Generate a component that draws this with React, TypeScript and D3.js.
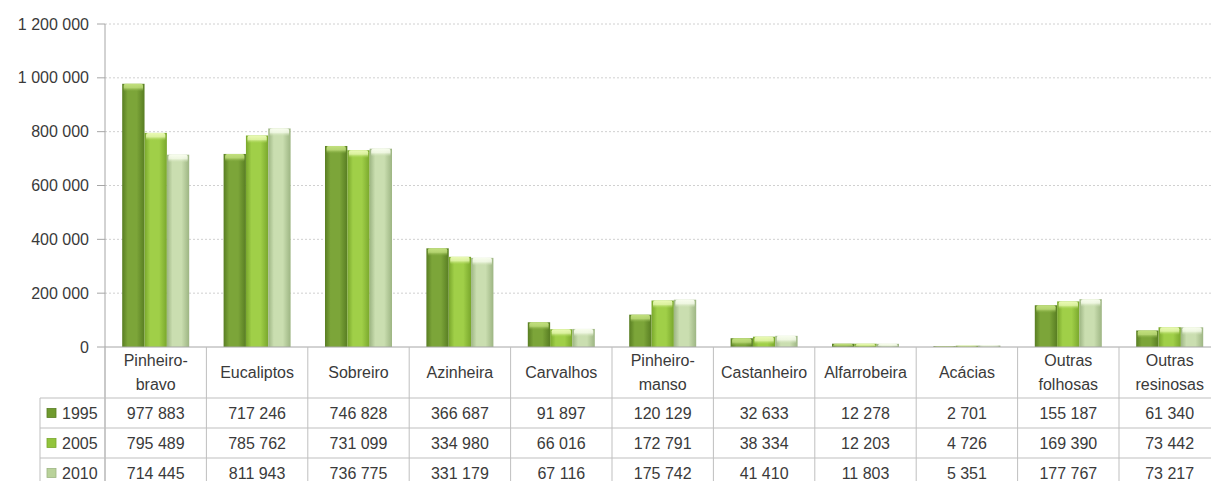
import React from 'react'
import * as d3 from 'd3'

const categories = [
  ['Pinheiro-', 'bravo'], ['Eucaliptos'], ['Sobreiro'], ['Azinheira'], ['Carvalhos'],
  ['Pinheiro-', 'manso'], ['Castanheiro'], ['Alfarrobeira'], ['Acácias'],
  ['Outras', 'folhosas'], ['Outras', 'resinosas'],
]
const years = ['1995', '2005', '2010']
const values1995 = [977883, 717246, 746828, 366687, 91897, 120129, 32633, 12278, 2701, 155187, 61340]
const values2005 = [795489, 785762, 731099, 334980, 66016, 172791, 38334, 12203, 4726, 169390, 73442]
const values2010 = [714445, 811943, 736775, 331179, 67116, 175742, 41410, 11803, 5351, 177767, 73217]
const yTicks = [0, 200000, 400000, 600000, 800000, 1000000, 1200000]

const series = [values1995, values2005, values2010]
const palette = [
  { edge: '#587d22', mid: '#7ca539', cap: '#c2e07e', key: '#6f9a2e' },
  { edge: '#79a72c', mid: '#a0cf48', cap: '#eafab4', key: '#92c43c' },
  { edge: '#9db583', mid: '#cadeb0', cap: '#f8fdee', key: '#b9d29a' },
]

const fmt = d3.formatLocale({ decimal: ',', thousands: ' ', grouping: [3], currency: ['', ''] }).format(',d')
const font = "'Liberation Sans', Arial, sans-serif"
const textColor = '#3a3a3a'
const lineColor = '#bfbfbf'

const App = () => {
  const left = 105
  const top = 24
  const zeroY = 347
  const colW = 101.4
  const headerBottom = 398
  const rowH = 30

  const x = d3.scaleBand<number>().domain(d3.range(categories.length)).range([left, left + colW * categories.length])
  const xs = d3.scaleBand<string>().domain(years).range([0, x.bandwidth()]).paddingOuter(0.77)
  const y = d3.scaleLinear().domain([0, 1200000]).range([zeroY, top])

  return (
    <svg width={1211} height={481} style={{ position: 'absolute', left: 0, top: 0, background: '#fff' }} fontFamily={font}>
      <defs>
        {palette.map((p, i) => (
          <g key={i}>
            <linearGradient id={`bar${i}`} x1="0" x2="1" y1="0" y2="0">
              <stop offset="0" stopColor={p.edge} />
              <stop offset="0.25" stopColor={p.mid} />
              <stop offset="0.65" stopColor={p.mid} />
              <stop offset="1" stopColor={p.edge} />
            </linearGradient>
            <linearGradient id={`cap${i}`} x1="0" x2="0" y1="0" y2="1">
              <stop offset="0" stopColor={p.cap} />
              <stop offset="0.5" stopColor={p.cap} stopOpacity="0.8" />
              <stop offset="1" stopColor={p.mid} stopOpacity="0" />
            </linearGradient>
          </g>
        ))}
      </defs>

      {/* gridlines */}
      {yTicks.filter(t => t > 0).map(t => (
        <line key={t} x1={left} x2={1211} y1={y(t)} y2={y(t)} stroke="#d0d0d0" strokeDasharray="2,2" />
      ))}

      {/* y axis */}
      <line x1={left} x2={left} y1={top} y2={481} stroke="#a6a6a6" />
      {yTicks.map(t => (
        <g key={t}>
          <line x1={left - 8} x2={left} y1={y(t)} y2={y(t)} stroke="#a6a6a6" />
          <text x={89} y={y(t)} dy="0.35em" textAnchor="end" fontSize={16} fill={textColor}>{fmt(t)}</text>
        </g>
      ))}

      {/* bars */}
      {categories.map((_, ci) => (
        <g key={ci} transform={`translate(${x(ci)},0)`}>
          {series.map((vals, si) => {
            const bx = xs(years[si]) as number
            const bw = xs.bandwidth()
            const by = y(vals[ci])
            const bh = zeroY - by
            const capH = Math.min(8, bh)
            return (
              <g key={si}>
                <rect x={bx} y={by} width={bw} height={bh} fill={`url(#bar${si})`} />
                <rect x={bx + 1.5} y={by} width={bw - 3} height={capH} rx={2} fill={`url(#cap${si})`} />
              </g>
            )
          })}
        </g>
      ))}

      {/* table */}
      <line x1={left} x2={1211} y1={zeroY} y2={zeroY} stroke="#a6a6a6" />
      {d3.range(categories.length + 1).map(i => (
        <line key={i} x1={left + colW * i} x2={left + colW * i} y1={zeroY} y2={481} stroke={lineColor} />
      ))}
      <line x1={40} x2={40} y1={headerBottom} y2={481} stroke={lineColor} />
      {[0, 1, 2].map(r => (
        <line key={r} x1={40} x2={1211} y1={headerBottom + rowH * r} y2={headerBottom + rowH * r} stroke={lineColor} />
      ))}

      {categories.map((lines, ci) => {
        const cx = (x(ci) as number) + x.bandwidth() / 2
        const mid = (zeroY + headerBottom) / 2
        return (
          <text key={ci} x={cx} textAnchor="middle" fontSize={16} fill={textColor}>
            {lines.map((l, li) => (
              <tspan key={li} x={cx} y={mid + (li - (lines.length - 1) / 2) * 24} dy="0.35em">{l}</tspan>
            ))}
          </text>
        )
      })}

      {series.map((vals, si) => {
        const cy = headerBottom + rowH * si + rowH / 2
        return (
          <g key={si}>
            <rect x={47} y={cy - 4.5} width={9} height={9} fill={palette[si].key} stroke={palette[si].edge} strokeWidth={0.8} />
            <text x={62} y={cy} dy="0.35em" fontSize={16} fill={textColor}>{years[si]}</text>
            {vals.map((v, ci) => (
              <text key={ci} x={(x(ci) as number) + x.bandwidth() / 2} y={cy} dy="0.35em" textAnchor="middle" fontSize={16} fill={textColor}>{fmt(v)}</text>
            ))}
          </g>
        )
      })}
    </svg>
  )
}

export default App
